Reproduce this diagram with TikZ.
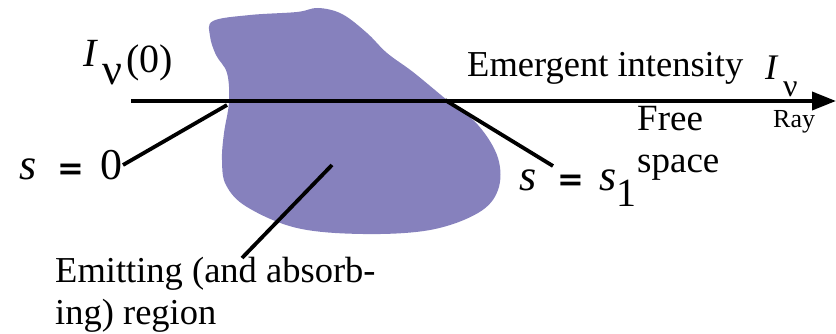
\documentclass[tikz,border=0pt]{standalone}
\usepackage{fontspec}
\setmainfont{Liberation Serif}
\newfontfamily\eqfont{DejaVu Sans}
\usetikzlibrary{arrows.meta}
\definecolor{blobcol}{RGB}{134,129,189}
\newcommand{\beq}{{\eqfont\bfseries\fontsize{32}{32}\selectfont =}}
\tikzset{
  lbl/.style={inner sep=0pt, anchor=base west, font=\fontsize{36.5}{42}\selectfont},
  lblfree/.style={inner sep=0pt, font=\fontsize{37}{40}\selectfont},
  lblray/.style={inner sep=0pt, anchor=base west, font=\fontsize{26}{30}\selectfont},
  lblbig/.style={inner sep=0pt, anchor=base west, font=\fontsize{44}{48}\selectfont},
  leader/.style={line width=3.8pt},
}
\begin{document}
\begin{tikzpicture}[x=1pt,y=-1pt]
\useasboundingbox (0,0) rectangle (836,334);
% region
\fill[blobcol] plot[smooth cycle, tension=0.6] coordinates {
 (213,21) (250,15) (297,12) (318,8) (342,14) (367,33) (387,53) (413,72)
 (447,100) (478,125) (498,158) (498,190) (478,213) (430,230) (363,234)
 (297,228) (247,207) (226,185) (222,160) (224,133) (229,102) (227,73) (216,55) (210,36)};
% ray
\coordinate (raystart) at (131,101);
\coordinate (rayend) at (836,101);
\draw[line width=3.8pt, -{Triangle[length=24pt,width=18pt]}] (raystart) -- (rayend);
% labels
\node[lbl, font=\fontsize{40}{44}\selectfont] (i0) at (83,73)
  {\makebox[19pt][l]{\raisebox{6pt}{\textit{I}}}\makebox[24pt][l]{\raisebox{-12pt}{\fontsize{44}{44}\selectfont ν}}(0)};
\node[lbl] (emerg) at (467,77) {Emergent intensity};
\node[lbl, font=\fontsize{36}{40}\selectfont] (inu) at (765,80)
  {\makebox[18pt][l]{\textit{I}}\raisebox{-17pt}{\fontsize{32}{32}\selectfont ν}};
\node[lblray] (ray) at (773,128) {Ray};
\node[lblfree, align=left, anchor=north west] (free) at (637,106) {Free\\[2pt]space};
\node[lblbig] (s0) at (19,180) {\makebox[38pt][l]{\textit{s}}\makebox[43pt][l]{\beq}0};
\node[lblbig] (s1) at (519,190) {\makebox[38pt][l]{\textit{s}}\makebox[42pt][l]{\beq}\textit{s}\raisebox{-17pt}{\fontsize{40}{40}\selectfont 1}};
\node[lbl, align=left, anchor=north west] (emit) at (55,257) {Emitting (and absorb-\\ing) region};
% leaders
\coordinate (p0) at (227,105);
\coordinate (p1) at (445,100);
\coordinate (p2) at (332,165);
\draw[leader] ([xshift=104pt,yshift=15pt]s0.base west) -- (p0);
\draw[leader] ([xshift=34pt,yshift=24pt]s1.base west) -- (p1);
\draw[leader] ([xshift=187pt,yshift=-1pt]emit.north west) -- (p2);
\end{tikzpicture}
\end{document}
